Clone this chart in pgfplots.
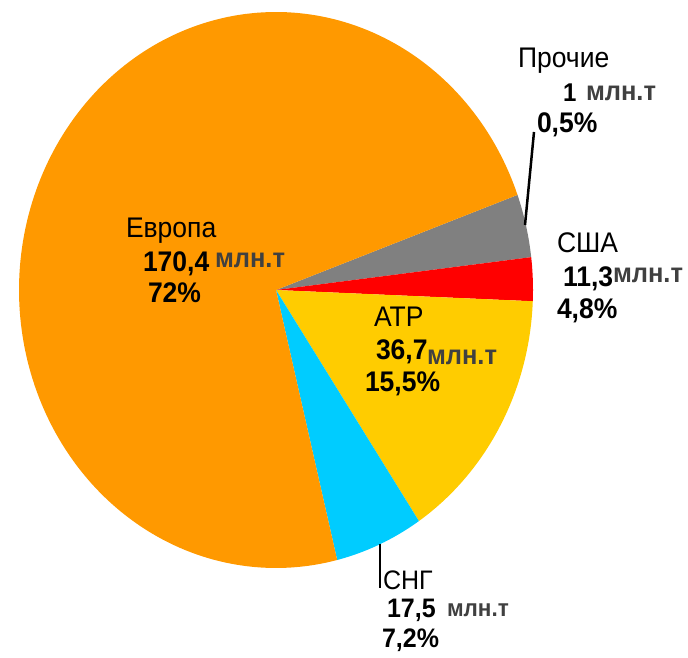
\documentclass[border=0pt]{standalone}
\usepackage{fontspec}
\setmainfont{Liberation Sans}
\usepackage{graphicx}
\usepackage{pgfplots}
\pgfplotsset{compat=1.18}

\definecolor{europe}{HTML}{FF9900}
\definecolor{atr}{HTML}{FFCC00}
\definecolor{sng}{HTML}{00CCFF}
\definecolor{usa}{HTML}{FF0000}
\definecolor{other}{HTML}{808080}
\definecolor{unit}{HTML}{404040}

% pie geometry in picture units (1 unit = 1 px of the reference)
\def\cx{276}\def\cy{368}\def\rx{257}\def\ry{278}
% slice shares in % of the drawn circle
\def\sOther{3.67}\def\sUsa{2.53}\def\sAtr{14.97}\def\sSng{5.56}\def\sEur{73.27}

% text is a little taller than wide in the reference
\newcommand{\vs}[1]{\scalebox{1}[1.07]{#1}}
\newcommand{\fL}{\fontsize{26.5bp}{30bp}\selectfont}
\newcommand{\un}[1]{{\fontsize{#1}{#1}\selectfont\bfseries\color{unit}млн.т}}
\tikzset{lab/.style={inner sep=0pt, outer sep=0pt, anchor=base west}}

\begin{document}
\begin{tikzpicture}
\pgfmathsetmacro{\aA}{20}
\pgfmathsetmacro{\aB}{\aA-3.6*\sOther}
\pgfmathsetmacro{\aC}{\aB-3.6*\sUsa}
\pgfmathsetmacro{\aD}{\aC-3.6*\sAtr}
\pgfmathsetmacro{\aE}{\aD-3.6*\sSng}
\pgfmathsetmacro{\aF}{\aE-3.6*\sEur}
\begin{axis}[
  scale only axis,
  width=688bp, height=658bp,
  xmin=0, xmax=688, ymin=0, ymax=658,
  hide axis, clip=false,
  samples=90
]
  \path (rel axis cs:0,0) rectangle (rel axis cs:1,1);
  \addplot[fill=other, draw=none, domain=\aB:\aA] ({\cx+\rx*cos(x)},{\cy+\ry*sin(x)}) -- (axis cs:\cx,\cy) -- cycle;
  \addplot[fill=usa, draw=none, domain=\aC:\aB] ({\cx+\rx*cos(x)},{\cy+\ry*sin(x)}) -- (axis cs:\cx,\cy) -- cycle;
  \addplot[fill=atr, draw=none, domain=\aD:\aC] ({\cx+\rx*cos(x)},{\cy+\ry*sin(x)}) -- (axis cs:\cx,\cy) -- cycle;
  \addplot[fill=sng, draw=none, domain=\aE:\aD] ({\cx+\rx*cos(x)},{\cy+\ry*sin(x)}) -- (axis cs:\cx,\cy) -- cycle;
  \addplot[fill=europe, draw=none, domain=\aF:\aE, samples=200] ({\cx+\rx*cos(x)},{\cy+\ry*sin(x)}) -- (axis cs:\cx,\cy) -- cycle;

  % leader lines
  \draw[line width=2.5bp] (axis cs:534,526) -- (axis cs:525,433);
  \draw[line width=2.5bp] (axis cs:380,114) -- (axis cs:380,70);

  % Европа
  \node[lab] at (axis cs:126,420) {\vs{\fL Европа}};
  \node[lab] at (axis cs:143,386) {\vs{\fL\bfseries 170,4}};
  \node[lab] at (axis cs:215,390) {\vs{\un{25.5bp}}};
  \node[lab] at (axis cs:148,355) {\vs{\fL\bfseries 72\%}};
  % АТР
  \node[lab] at (axis cs:374,331) {\vs{\fL АТР}};
  \node[lab] at (axis cs:376,298) {\vs{\fL\bfseries 36,7}};
  \node[lab] at (axis cs:427,293) {\vs{\un{25.5bp}}};
  \node[lab] at (axis cs:365,266) {\vs{\fL\bfseries 15,5\%}};
  % США
  \node[lab] at (axis cs:557,405) {\vs{\fL США}};
  \node[lab] at (axis cs:563,371) {\vs{\fL\bfseries 11,3}};
  \node[lab] at (axis cs:613,375) {\vs{\un{25.5bp}}};
  \node[lab] at (axis cs:557,339) {\vs{\fL\bfseries 4,8\%}};
  % Прочие
  \node[lab] at (axis cs:518,590) {\vs{\fL Прочие}};
  \node[lab] at (axis cs:563,556) {\vs{\fontsize{24bp}{26bp}\selectfont\bfseries 1}};
  \node[lab] at (axis cs:586,557) {\vs{\un{25.5bp}}};
  \node[lab] at (axis cs:537,525) {\vs{\fL\bfseries 0,5\%}};
  % СНГ
  \node[lab] at (axis cs:383,68) {\vs{\fontsize{25bp}{28bp}\selectfont СНГ}};
  \node[lab] at (axis cs:387,40) {\vs{\fontsize{25bp}{28bp}\selectfont\bfseries 17,5}};
  \node[lab] at (axis cs:447,41) {\vs{\un{22.5bp}}};
  \node[lab] at (axis cs:382,11) {\vs{\fontsize{25bp}{28bp}\selectfont\bfseries 7,2\%}};
\end{axis}
\end{tikzpicture}
\end{document}
